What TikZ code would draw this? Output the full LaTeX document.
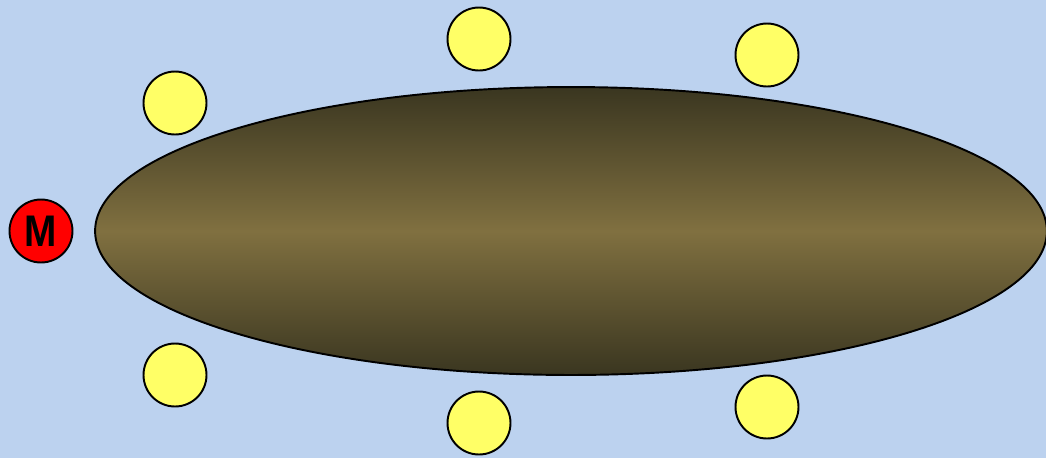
\documentclass[tikz,border=0pt]{standalone}
\usepackage{fontspec}
\setsansfont{Liberation Sans}
\usepackage{xcolor}
\usepackage{tikz}
\usetikzlibrary{shapes.geometric}
\definecolor{skybg}{HTML}{BCD2EF}
\definecolor{sunyel}{HTML}{FFFF66}
\definecolor{bodydark}{HTML}{3A3620}
\definecolor{bodylight}{HTML}{807040}
\tikzset{
  sat/.style={circle,draw=black,line width=1.1pt,fill=sunyel,minimum size=1.26cm,inner sep=0pt},
  mass/.style={circle,draw=black,line width=1.1pt,fill=red,minimum size=1.26cm,inner sep=0pt,font=\sffamily\bfseries\fontsize{24}{24}\selectfont},
  core/.style={ellipse,draw=black,line width=1.1pt,minimum width=19.04cm,minimum height=5.76cm,top color=bodydark,bottom color=bodydark,middle color=bodylight}
}

\begin{document}
\begin{tikzpicture}[x=0.02cm,y=-0.02cm]
\fill[skybg] (0,0) rectangle (1046,458); \useasboundingbox (0,0) rectangle (1046,458);
\node[core] (body) at (571,231) {};
\node[mass] (m) at (41,231) {\raisebox{-0.1ex}{\scalebox{0.92}[1.05]{M}}};
\node[sat] (s1) at (175,103) {}; \node[sat] (s2) at (479,39) {}; \node[sat] (s3) at (767,55) {};
\node[sat] (s4) at (175,375) {}; \node[sat] (s5) at (479,423) {}; \node[sat] (s6) at (767,407) {};
\end{tikzpicture}
\end{document}
